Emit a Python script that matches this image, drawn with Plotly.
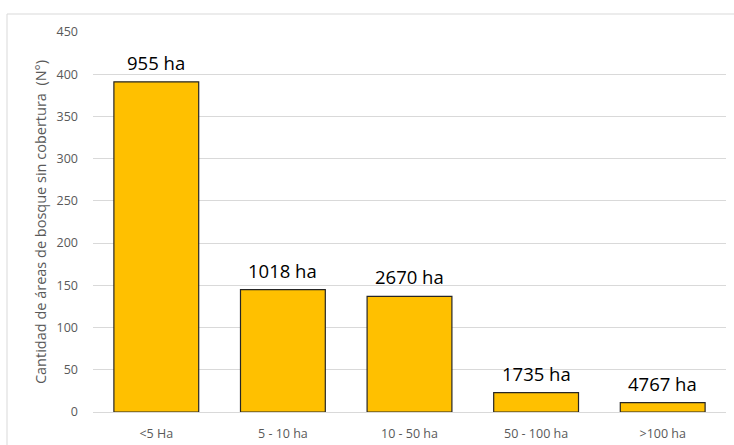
import plotly.graph_objects as go

categories = ["<5 Ha", "5 - 10 ha", "10 - 50 ha", "50 - 100 ha", ">100 ha"]
counts = [391, 145, 137, 23, 11]
area_labels = ["955 ha", "1018 ha", "2670 ha", "1735 ha", "4767 ha"]
y_ticks = [0, 50, 100, 150, 200, 250, 300, 350, 400, 450]

W, H = 734, 445
L, R, T, B = 93, 8, 32, 33
pw, ph = W - L - R, H - T - B

fig = go.Figure()
fig.add_trace(go.Bar(
    x=categories, y=counts,
    marker=dict(color="#FFC000", line=dict(color="#262626", width=1.2)),
    hoverinfo="x+y",
))

for c, v, lab in zip(categories, counts, area_labels):
    fig.add_annotation(x=c, y=v, text=lab, showarrow=False, yanchor="bottom",
                       yshift=5, font=dict(family="Open Sans", size=18.5, color="#000000"))

def px_x(p):
    return (p - L) / pw

def px_y(p):
    return 1 - (p - T) / ph

border = "#d9d9d9"
fig.add_shape(type="line", xref="paper", yref="paper",
              x0=px_x(7), x1=px_x(734), y0=px_y(14), y1=px_y(14),
              line=dict(color=border, width=1))
fig.add_shape(type="line", xref="paper", yref="paper",
              x0=px_x(7), x1=px_x(7), y0=px_y(14), y1=px_y(445),
              line=dict(color=border, width=1))

fig.update_layout(
    width=W, height=H,
    margin=dict(l=L, r=R, t=T, b=B, autoexpand=False),
    paper_bgcolor="white", plot_bgcolor="white",
    bargap=0.33,
    showlegend=False,
    font=dict(family="Open Sans", color="#595959"),
    xaxis=dict(
        showgrid=False, showline=True, linecolor="#d9d9d9", linewidth=1,
        tickfont=dict(size=12.5, color="#595959"), ticks="", ticklabelstandoff=10,
        automargin=False,
    ),
    yaxis=dict(
        range=[0, 450], tickvals=y_ticks, showgrid=True, gridcolor="#d9d9d9",
        gridwidth=1, zeroline=False, showline=False, ticks="",
        tickfont=dict(size=12.5, color="#595959"), ticklabelstandoff=14,
        automargin=False,
        title=dict(text="Cantidad de áreas de bosque sin cobertura  (N°)",
                   font=dict(size=14.5, color="#595959"), standoff=6),
    ),
)

fig.write_html("out.html", config={"displayModeBar": False},
               post_script="document.body.style.margin='0';")
